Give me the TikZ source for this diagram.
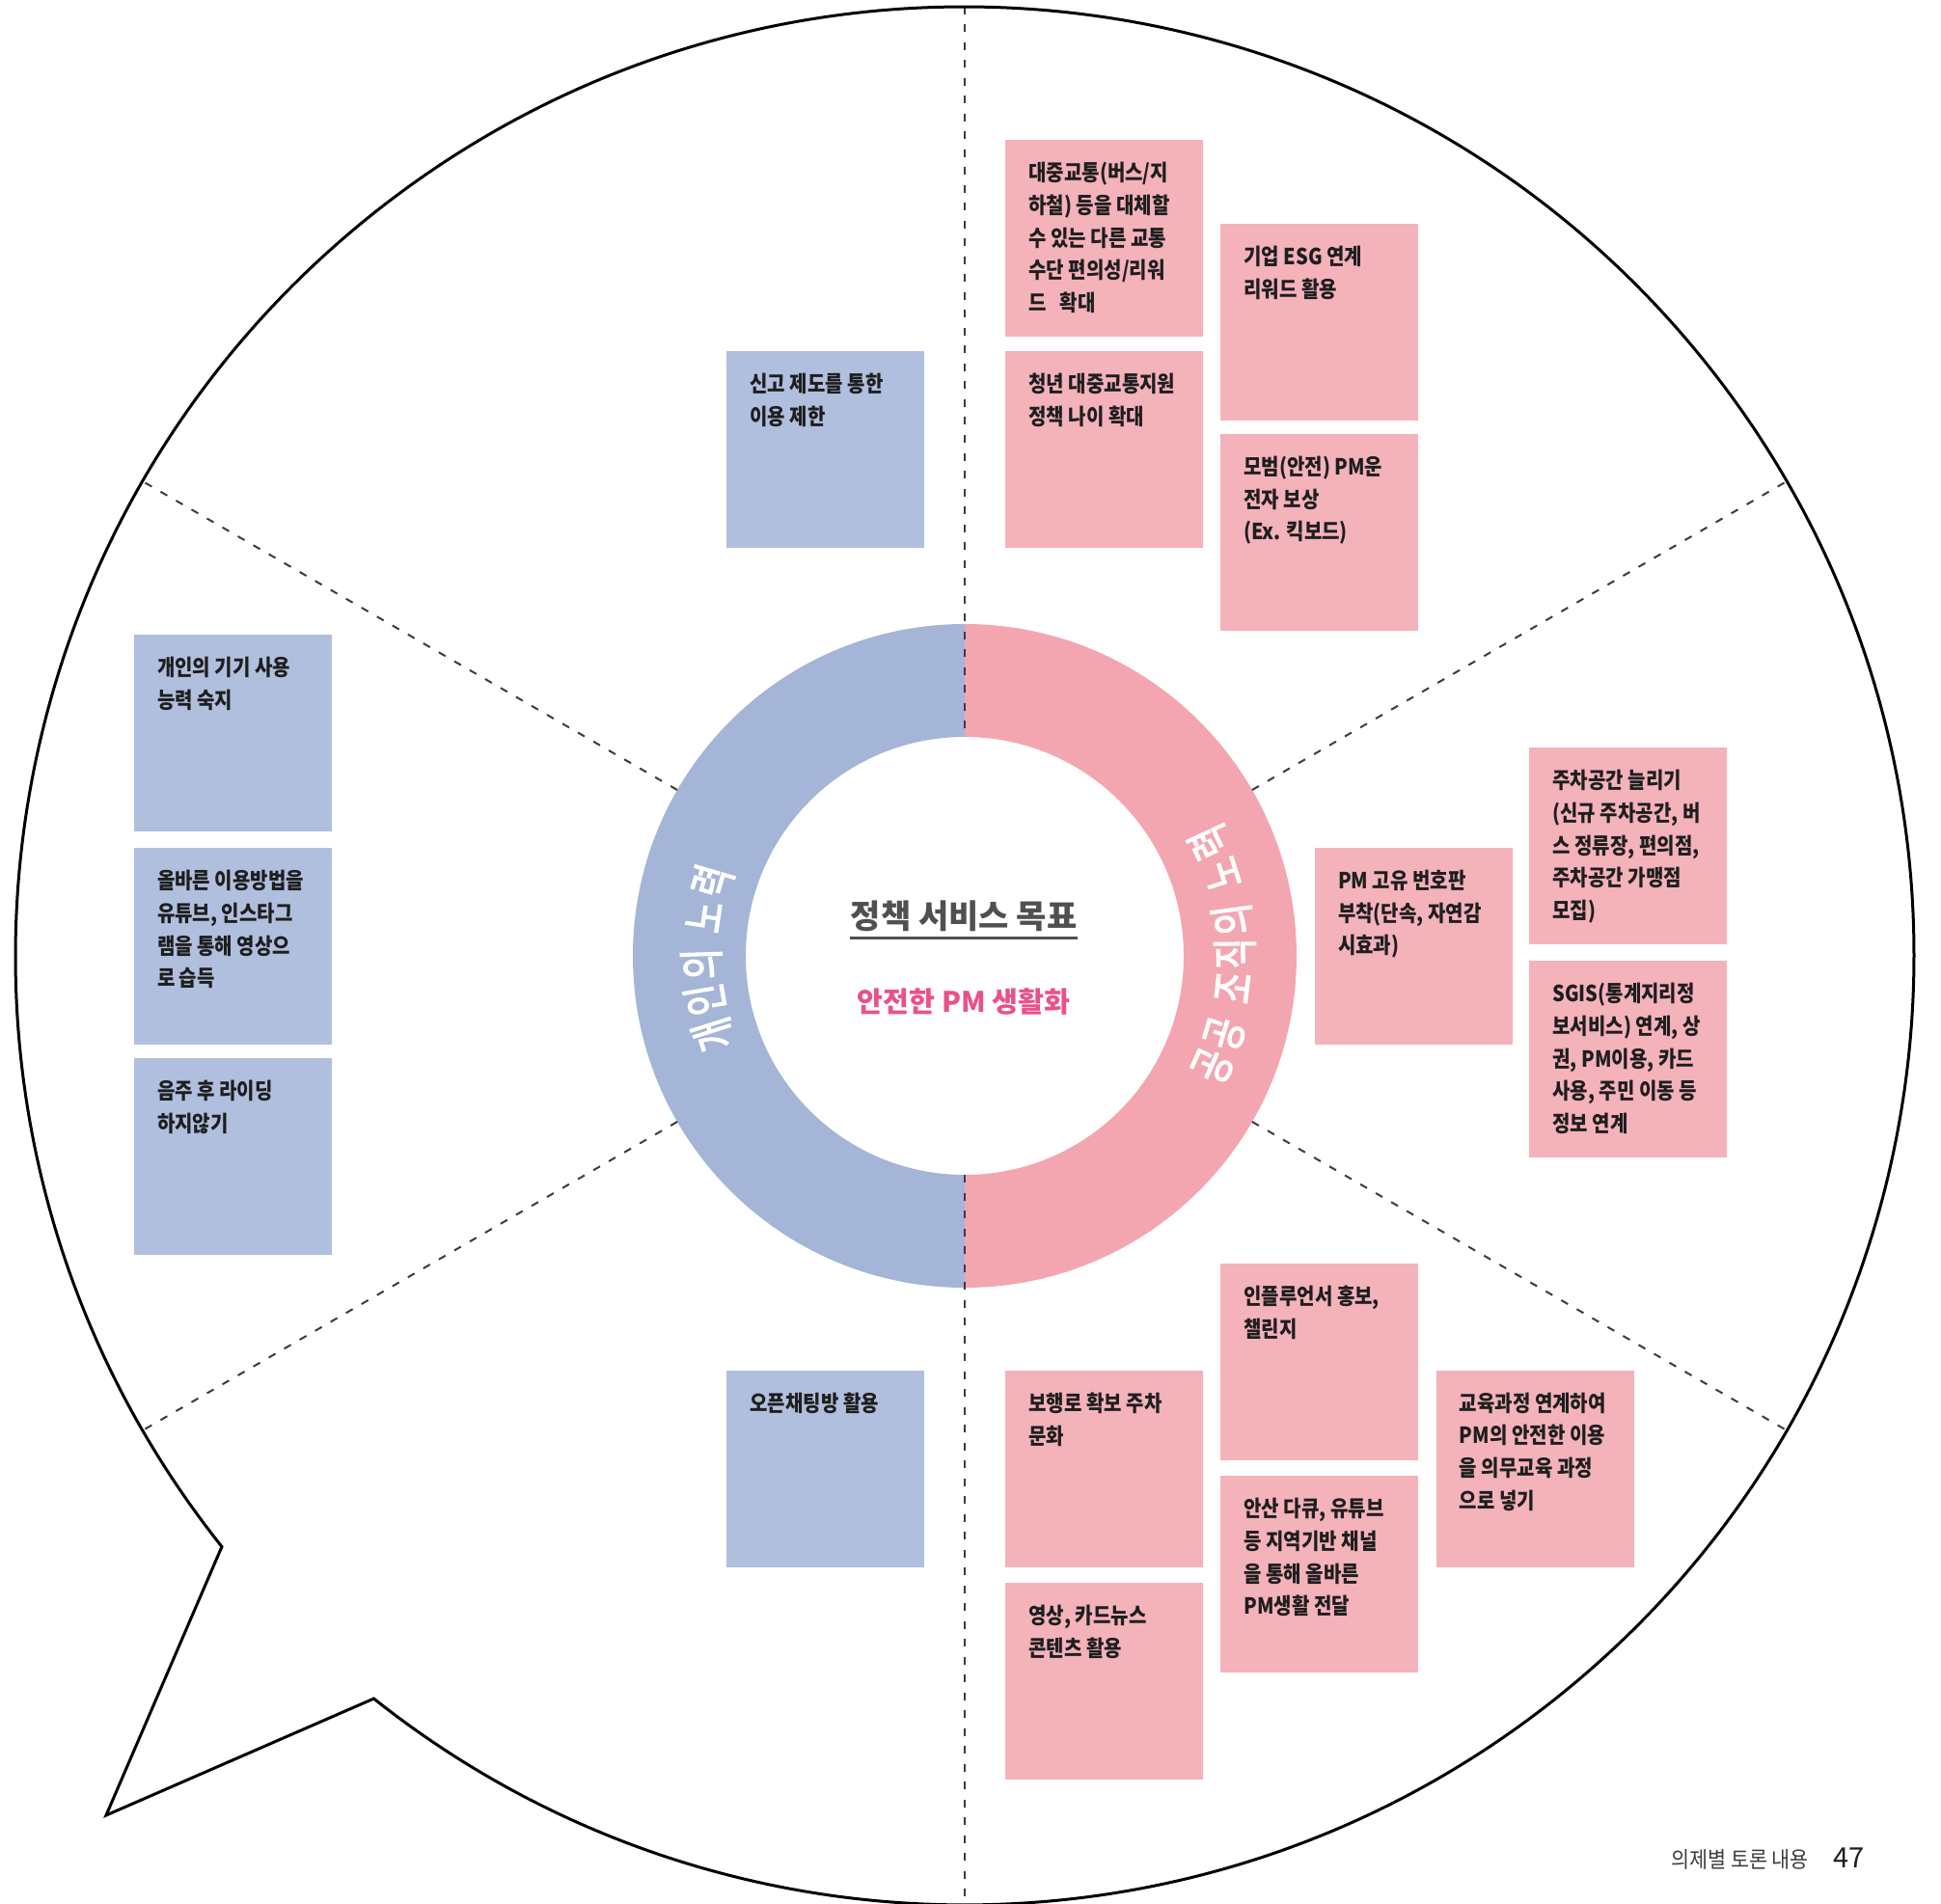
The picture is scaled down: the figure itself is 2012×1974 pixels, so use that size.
\documentclass[tikz,border=0pt]{standalone}
\usepackage{fontspec}
\usetikzlibrary{decorations.text,calc}

\newfontfamily\krbody{Noto Sans CJK KR}[FakeStretch=0.87]
\newfontfamily\krring{Noto Sans CJK KR}[FakeStretch=0.72, FakeBold=2.5]
\newfontfamily\krhead{Noto Sans CJK KR}
\newfontfamily\krfoot{Noto Sans CJK KR}[FakeStretch=0.9]

\definecolor{ringblue}{RGB}{165,181,215}
\definecolor{ringpink}{RGB}{243,166,176}
\definecolor{cardblue}{RGB}{177,191,222}
\definecolor{cardpink}{RGB}{244,178,187}
\definecolor{inkdark}{RGB}{30,30,30}
\definecolor{headgray}{RGB}{80,80,80}
\definecolor{accentpink}{RGB}{233,81,138}
\definecolor{dashgray}{RGB}{60,60,60}
\definecolor{footgray}{RGB}{60,60,60}

% one sticky card: name, fill colour, top-left x, top-left y, text
\newcommand\notecard[5]{%
  \node[cardbox, fill=#2] (#1) at (#3,#4) {};
  \node[cardtext] (#1-text) at ([xshift=12pt, yshift=-11.5pt]#1.north west) {#5};
}

\begin{document}
\begin{tikzpicture}[x=0.5pt, y=-0.5pt,
  cardbox/.style={rectangle, anchor=north west, minimum width=102.5pt,
    minimum height=102pt, inner sep=0pt, outer sep=0pt, draw=none},
  cardtext/.style={anchor=north west, inner sep=0pt, align=left, text=inkdark,
    font=\krbody\bfseries\fontsize{11.5pt}{16.8pt}\selectfont},
  divider/.style={draw=dashgray, line width=1pt, dash pattern=on 4pt off 5.25pt},
  bubble/.style={draw=black, line width=1.5pt, line join=miter},
  ringlabel/.style={decorate, decoration={text along path, text align=fit to path,
    text={|\krring\fontsize{24pt}{24pt}\selectfont\color{white}|#1}}}
]
\useasboundingbox (0,0) rectangle (2012,1974);

\coordinate (c) at (1000,991);
\coordinate (tip) at (110,1882);

% ring: personal effort (left) and public effort (right)
\fill[ringblue] ($(c)+(90:344)$) arc[start angle=90, end angle=270, radius=344]
  -- ($(c)+(270:227)$) arc[start angle=270, end angle=90, radius=227] -- cycle;
\fill[ringpink] ($(c)+(-90:344)$) arc[start angle=-90, end angle=90, radius=344]
  -- ($(c)+(90:227)$) arc[start angle=90, end angle=-90, radius=227] -- cycle;

% sector dividers
\coordinate (vtop) at ($(c)+(270:984)$);
\coordinate (vin1) at ($(c)+(270:227)$);
\coordinate (vin2) at ($(c)+(90:227)$);
\coordinate (vbot) at (1000,1974);
\draw[divider] (vtop) -- (vin1);
\draw[divider] (vin2) -- (vbot);
\foreach \a in {30,150,210,330}{
  \coordinate (d\a in) at ($(c)+(\a:344)$);
  \coordinate (d\a out) at ($(c)+(\a:984)$);
  \draw[divider] (d\a in) -- (d\a out);
}

% speech bubble outline
\draw[bubble] ($(c)+(141.5:984)$) arc[start angle=141.5, end angle=488.5, radius=984]
  -- (tip) -- cycle;

% cards: personal effort
\notecard{report}{cardblue}{753}{364}{신고 제도를 통한\\이용 제한}
\notecard{skill}{cardblue}{138.6}{658}{개인의 기기 사용\\능력 숙지}
\notecard{video}{cardblue}{138.6}{879}{올바른 이용방법을\\유튜브, 인스타그\\램을 통해 영상으\\로 습득}
\notecard{sober}{cardblue}{138.6}{1097}{음주 후 라이딩\\하지않기}
\notecard{chat}{cardblue}{753}{1420.5}{오픈채팅방 활용}

% cards: public effort
\notecard{transit}{cardpink}{1042}{145}{대중교통(버스/지\\하철) 등을 대체할\\수 있는 다른 교통\\수단 편의성/리워\\드\hspace{0.6em}확대}
\notecard{youth}{cardpink}{1042}{364}{청년 대중교통지원\\정책 나이 확대}
\notecard{esg}{cardpink}{1265}{232}{기업 ESG 연계\\리워드 활용}
\notecard{reward}{cardpink}{1265}{450}{모범(안전) PM운\\전자 보상\\(Ex. 킥보드)}
\notecard{plate}{cardpink}{1362.7}{879}{PM 고유 번호판\\부착(단속, 자연감\\시효과)}
\notecard{parking}{cardpink}{1585}{775}{주차공간 늘리기\\(신규 주차공간, 버\\스 정류장, 편의점,\\주차공간 가맹점\\모집)}
\notecard{sgis}{cardpink}{1585}{996}{SGIS(통계지리정\\보서비스) 연계, 상\\권, PM이용, 카드\\사용, 주민 이동 등\\정보 연계}
\notecard{walk}{cardpink}{1042}{1420.5}{보행로 확보 주차\\문화}
\notecard{cardnews}{cardpink}{1042}{1641}{영상, 카드뉴스\\콘텐츠 활용}
\notecard{influencer}{cardpink}{1265}{1310}{인플루언서 홍보,\\챌린지}
\notecard{local}{cardpink}{1265}{1530}{안산 다큐, 유튜브\\등 지역기반 채널\\을 통해 올바른\\PM생활 전달}
\notecard{school}{cardpink}{1488.5}{1420.5}{교육과정 연계하여\\PM의 안전한 이용\\을 의무교육 과정\\으로 넣기}

% centre titles
\node[font=\krhead\bfseries\fontsize{17pt}{20pt}\selectfont, text=headgray, inner sep=0pt]
  (goal) at (999,950) {정책 서비스 목표};
\draw[headgray, line width=1.2pt] ([yshift=-3pt]goal.south west) -- ([yshift=-3pt]goal.south east);
\node[font=\krhead\bfseries\fontsize{14.6pt}{18pt}\selectfont, text=accentpink, inner sep=0pt]
  (aim) at (999,1038) {안전한 PM 생활화};

% ring labels following the arc, both reading upwards
\path[ringlabel={개인의 노력}]
  ($(c)+(159:255)$) arc[start angle=159, end angle=200, radius=255];
\path[ringlabel={공공 조직의 노력}]
  ($(c)+(27:298)$) arc[start angle=27, end angle=-28, radius=298];

% page footer
\node[anchor=west, inner sep=0pt, text=footgray,
  font=\krfoot\fontsize{11.5pt}{12pt}\selectfont] (section) at (1732,1928) {의제별 토론 내용};
\node[anchor=west, inner sep=0pt, text=inkdark,
  font=\krhead\fontsize{14.5pt}{15pt}\selectfont] (pageno) at (1900,1926) {47};
\end{tikzpicture}
\end{document}
